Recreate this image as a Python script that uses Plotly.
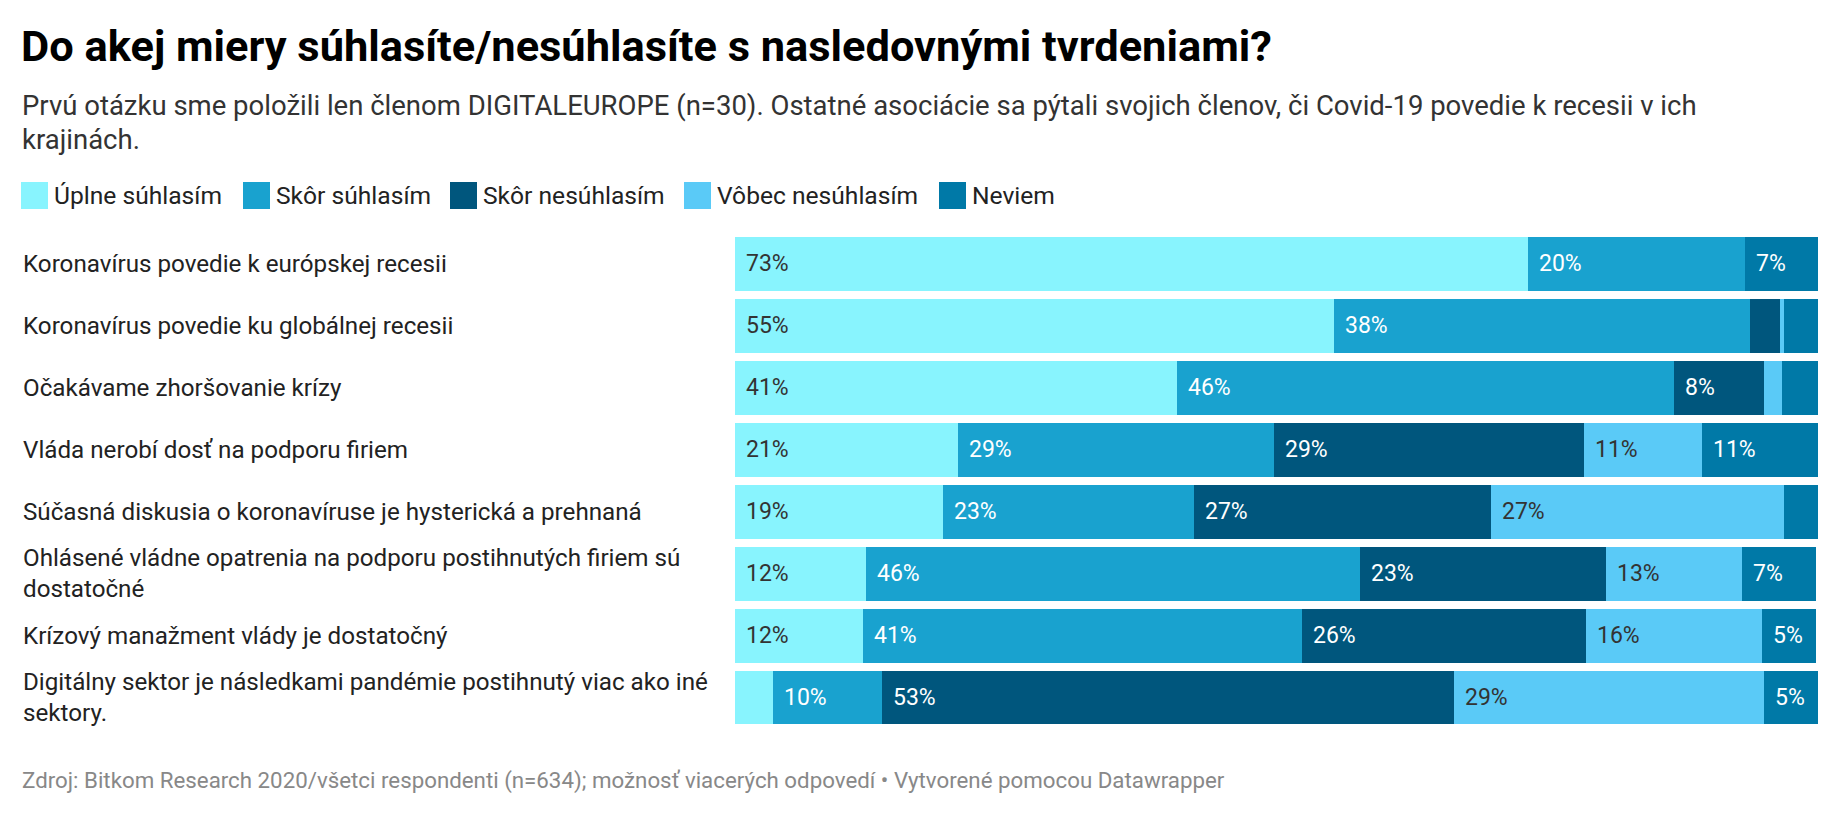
import plotly.graph_objects as go

# ---------------- data ----------------
categories = [
    "Koronavírus povedie k európskej recesii",
    "Koronavírus povedie ku globálnej recesii",
    "Očakávame zhoršovanie krízy",
    "Vláda nerobí dosť na podporu firiem",
    "Súčasná diskusia o koronavíruse je hysterická a prehnaná",
    "Ohlásené vládne opatrenia na podporu postihnutých firiem sú<br>dostatočné",
    "Krízový manažment vlády je dostatočný",
    "Digitálny sektor je následkami pandémie postihnutý viac ako iné<br>sektory.",
]
series_names = ["Úplne súhlasím", "Skôr súhlasím", "Skôr nesúhlasím", "Vôbec nesúhlasím", "Neviem"]
uplne_suhlasim = [73.2, 55.3, 40.8, 20.6, 19.2, 12.1, 11.8, 3.5]
skor_suhlasim = [20.1, 38.4, 45.9, 29.2, 23.2, 45.6, 40.6, 10.1]
skor_nesuhlasim = [0.0, 2.8, 8.3, 28.6, 27.4, 22.7, 26.2, 52.8]
vobec_nesuhlasim = [0.0, 0.4, 1.7, 10.9, 27.1, 12.6, 16.2, 28.6]
neviem = [6.7, 3.1, 3.3, 10.7, 3.1, 6.8, 5.0, 5.0]
series_values = [uplne_suhlasim, skor_suhlasim, skor_nesuhlasim, vobec_nesuhlasim, neviem]

title = "Do akej miery súhlasíte/nesúhlasíte s nasledovnými tvrdeniami?"
subtitle_1 = ("Prvú otázku sme položili len členom DIGITALEUROPE (n=30). Ostatné asociácie sa pýtali "
              "svojich členov, či Covid-19 povedie k recesii v ich")
subtitle_2 = "krajinách."
footer = ("Zdroj: Bitkom Research 2020/všetci respondenti (n=634); možnosť viacerých odpovedí • "
          "Vytvorené pomocou Datawrapper")

# ---------------- style ----------------
colors = ["#88F4FE", "#19A2CF", "#00567D", "#5ACAF7", "#0079A7"]
label_colors = ["#333333", "#ffffff", "#ffffff", "#333333", "#ffffff"]
FONT = "Roboto"
W, H = 1840, 814
ML, MR, MT, MB = 735, 22, 233, 85
PW, PH = W - ML - MR, H - MT - MB


def px_x(px):
    return (px - ML) / PW


def px_y(py):
    return (H - MB - py) / PH


fig = go.Figure()
for name, vals, col in zip(series_names, series_values, colors):
    fig.add_trace(go.Bar(
        y=categories, x=vals, name=name, orientation="h",
        marker=dict(color=col, line=dict(width=0)),
        hoverinfo="skip", showlegend=False,
    ))

annotations = []
# value labels inside segments
for i, cat in enumerate(categories):
    start = 0.0
    for s, vals in enumerate(series_values):
        v = vals[i]
        if v >= 4.5:
            annotations.append(dict(
                x=start, y=cat, xref="x", yref="y", text=f"{round(v)}%",
                showarrow=False, xanchor="left", yanchor="middle", xshift=9,
                font=dict(family=FONT, size=23, color=label_colors[s]),
            ))
        start += v

# row labels (left aligned)
for cat in categories:
    annotations.append(dict(
        x=px_x(21), y=cat, xref="paper", yref="y", text=cat, align="left",
        showarrow=False, xanchor="left", yanchor="middle",
        font=dict(family=FONT, size=24.2, color="#222222"),
    ))

# title, subtitle, footer
annotations.append(dict(x=px_x(19), y=px_y(46), xref="paper", yref="paper", text=f"<b>{title}</b>",
                        showarrow=False, xanchor="left", yanchor="middle",
                        font=dict(family=FONT, size=43.4, color="#000000")))
annotations.append(dict(x=px_x(20), y=px_y(106), xref="paper", yref="paper", text=subtitle_1,
                        showarrow=False, xanchor="left", yanchor="middle",
                        font=dict(family=FONT, size=27.5, color="#333333")))
annotations.append(dict(x=px_x(20), y=px_y(139), xref="paper", yref="paper", text=subtitle_2,
                        showarrow=False, xanchor="left", yanchor="middle",
                        font=dict(family=FONT, size=27.5, color="#333333")))
annotations.append(dict(x=px_x(20), y=px_y(780), xref="paper", yref="paper", text=footer,
                        showarrow=False, xanchor="left", yanchor="middle",
                        font=dict(family=FONT, size=22.3, color="#888888")))

# manual legend
legend_x = [21, 243, 450, 684, 939]
shapes = []
for name, col, lx in zip(series_names, colors, legend_x):
    shapes.append(dict(type="rect", xref="paper", yref="paper",
                       x0=px_x(lx), x1=px_x(lx + 27), y0=px_y(209), y1=px_y(182),
                       fillcolor=col, line=dict(width=0)))
    annotations.append(dict(x=px_x(lx + 31), y=px_y(196), xref="paper", yref="paper", text=name,
                            showarrow=False, xanchor="left", yanchor="middle",
                            font=dict(family=FONT, size=24.6, color="#222222")))

fig.update_layout(
    width=W, height=H,
    margin=dict(l=ML, r=MR, t=MT, b=MB, pad=0),
    barmode="stack", bargap=8 / 62,
    paper_bgcolor="white", plot_bgcolor="white",
    xaxis=dict(range=[0, 100], visible=False, fixedrange=True),
    yaxis=dict(autorange="reversed", visible=False, fixedrange=True),
    annotations=annotations, shapes=shapes,
    font=dict(family=FONT),
)

fig.write_html("out.html", config={"displayModeBar": False},
               post_script="document.body.style.margin='0';document.body.style.overflow='hidden';")
